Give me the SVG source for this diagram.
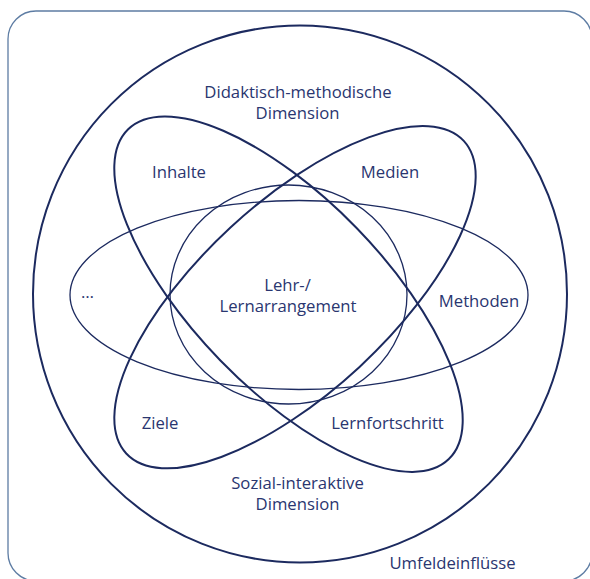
<svg xmlns="http://www.w3.org/2000/svg" width="590" height="579" viewBox="0 0 590 579">
  <style>
    .frame { fill: none; stroke: #5d7ca3; stroke-width: 1.3; }
    .heavy { fill: none; stroke: #1c2a5f; stroke-width: 2; }
    .light { fill: none; stroke: #1c2a5f; stroke-width: 1.3; }
    .label { font-family: "Open Sans", "Noto Sans", "Liberation Sans", sans-serif; font-size: 16.7px; fill: #2a3670; text-anchor: middle; }
  </style>
  <rect width="590" height="579" fill="#ffffff"/>

  <!-- outer frame: environment -->
  <g id="umfeld">
    <rect class="frame" x="8" y="11" width="584" height="570" rx="28" ry="28"/>
    <text class="label" x="452.5" y="568.5">Umfeldeinflüsse</text>
  </g>

  <!-- large circle holding both dimensions -->
  <g id="dimensionen">
    <ellipse class="heavy" cx="300" cy="294" rx="267" ry="268.5"/>
    <text class="label" x="298" y="97.7">Didaktisch-methodische</text>
    <text class="label" x="297.5" y="118.5">Dimension</text>
    <text class="label" x="297.5" y="489">Sozial-interaktive</text>
    <text class="label" x="297.5" y="510">Dimension</text>
  </g>

  <!-- petal: Inhalte / Lernfortschritt -->
  <g id="inhalte-lernfortschritt">
    <ellipse class="heavy" cx="288.5" cy="294.2" rx="230" ry="95" transform="rotate(45.8 288.5 294.2)"/>
    <text class="label" x="179" y="177.7">Inhalte</text>
    <text class="label" x="387.5" y="429">Lernfortschritt</text>
  </g>

  <!-- petal: Medien / Ziele -->
  <g id="medien-ziele">
    <ellipse class="heavy" cx="295" cy="297.2" rx="230" ry="95" transform="rotate(-42.8 295 297.2)"/>
    <text class="label" x="390" y="178.3">Medien</text>
    <text class="label" x="160" y="429">Ziele</text>
  </g>

  <!-- horizontal ellipse: ... / Methoden -->
  <g id="methoden">
    <ellipse class="light" cx="299" cy="295" rx="229" ry="94.5"/>
    <text class="label" x="87.5" y="298.3">…</text>
    <text class="label" x="479" y="306.7">Methoden</text>
  </g>

  <!-- centre -->
  <g id="arrangement">
    <ellipse class="light" cx="288.5" cy="294.5" rx="118.5" ry="109.5"/>
    <text class="label" x="287.5" y="290.8">Lehr-/</text>
    <text class="label" x="288" y="311.7">Lernarrangement</text>
  </g>
</svg>
